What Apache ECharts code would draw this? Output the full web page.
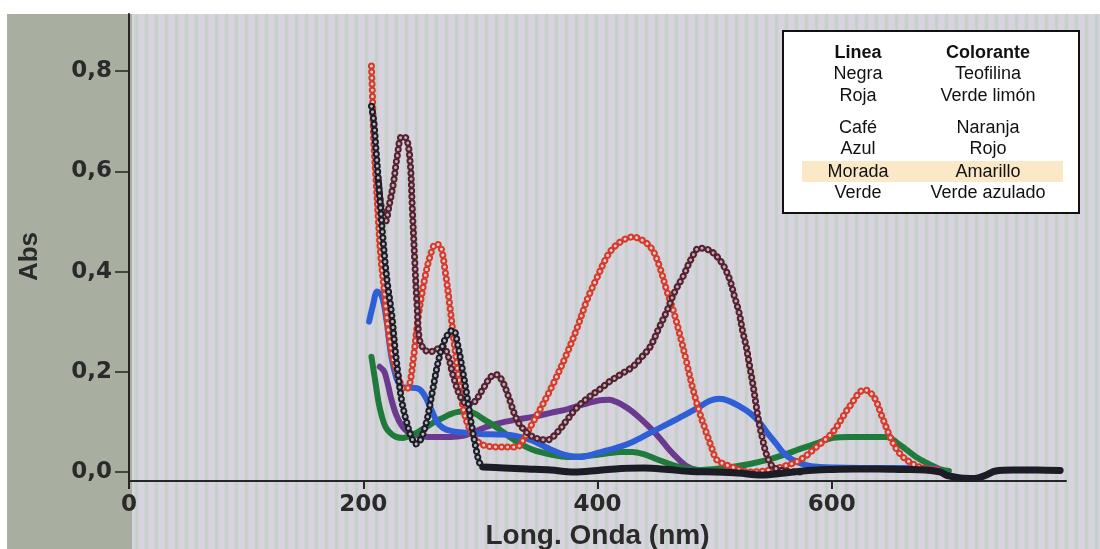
<!DOCTYPE html>
<html>
<head>
<meta charset="utf-8">
<script src="https://cdn.jsdelivr.net/npm/echarts@6/dist/echarts.min.js"></script>
<style>
  html, body { margin:0; padding:0; }
  body {
    width:1100px; height:549px; overflow:hidden; position:relative;
    background: repeating-linear-gradient(90deg, #d7d3df 0px, #d7d3df 4px, #c4d0c5 6px, #c4d0c5 7px, #d7d3df 9px, #d7d3df 10px);
  }
  #leftPanel { position:absolute; left:7px; top:14px; width:125px; height:535px; background:#a8aea0; }
  #topWhite { position:absolute; left:0; top:0; width:1100px; height:14px; background:#ffffff; }
  #leftWhite { position:absolute; left:0; top:0; width:7px; height:549px; background:#ffffff; }
  #chart { position:absolute; left:0; top:0; width:1100px; height:549px; }
</style>
</head>
<body>
<div id="leftPanel"></div>
<div id="topWhite"></div>
<div id="leftWhite"></div>
<div id="chart"></div>
<script>
// ---- data (wavelength nm, absorbance) ----
const xTicks = [0, 200, 400, 600];
const yTicks = [0, 0.2, 0.4, 0.6, 0.8];

const legendHeader = ['Linea', 'Colorante'];
const legendLinea = ['Negra', 'Roja', 'Café', 'Azul', 'Morada', 'Verde'];
const legendColorante = ['Teofilina', 'Verde limón', 'Naranja', 'Rojo', 'Amarillo', 'Verde azulado'];

const roja = [[207,0.81],[208,0.74],[209,0.66],[211,0.58],[213,0.50],[215,0.43],[218,0.36],[221,0.29],[225,0.23],[230,0.19],[235,0.165],[239,0.17],[243,0.23],[247,0.31],[252,0.38],[257,0.43],[262,0.455],[266,0.45],[270,0.40],[274,0.33],[278,0.25],[282,0.18],[286,0.12],[291,0.085],[297,0.062],[305,0.052],[317,0.05],[331,0.05],[338,0.07],[345,0.1],[351,0.125],[362,0.175],[374,0.237],[383,0.29],[391,0.343],[400,0.39],[410,0.437],[420,0.46],[430,0.469],[440,0.46],[447,0.443],[453,0.41],[459,0.363],[465,0.32],[470,0.277],[476,0.22],[481,0.17],[487,0.12],[493,0.078],[498,0.045],[502,0.024],[515,0.01],[530,0.0],[545,0.003],[560,0.012],[573,0.024],[587,0.05],[601,0.08],[615,0.13],[628,0.164],[636,0.15],[643,0.11],[651,0.064],[657,0.04],[664,0.024],[675,0.01],[690,0.005]];

const cafe = [[213,0.58],[216,0.52],[219,0.50],[222,0.53],[226,0.58],[229,0.63],[233,0.67],[237,0.665],[240,0.62],[242,0.52],[244,0.42],[246,0.33],[248,0.265],[252,0.245],[257,0.24],[263,0.245],[268,0.25],[272,0.235],[277,0.19],[283,0.15],[289,0.135],[295,0.14],[302,0.165],[309,0.19],[314,0.194],[319,0.18],[325,0.144],[330,0.11],[335,0.09],[345,0.07],[357,0.064],[366,0.08],[374,0.104],[383,0.13],[393,0.15],[402,0.165],[410,0.18],[420,0.195],[430,0.21],[438,0.23],[445,0.25],[452,0.285],[459,0.32],[466,0.36],[473,0.39],[480,0.425],[487,0.447],[495,0.443],[502,0.43],[508,0.41],[513,0.383],[517,0.35],[521,0.317],[524,0.28],[527,0.25],[530,0.21],[533,0.17],[535,0.14],[537,0.11],[541,0.065],[545,0.03],[550,0.01],[560,0.002],[575,0.0]];

const negraUV = [[207,0.73],[209,0.70],[211,0.64],[213,0.58],[215,0.52],[217,0.46],[219,0.41],[221,0.37],[224,0.32],[227,0.25],[230,0.19],[233,0.14],[237,0.10],[241,0.07],[245,0.056],[249,0.065],[254,0.1],[259,0.16],[264,0.22],[269,0.26],[274,0.28],[277,0.283],[281,0.25],[285,0.2],[288,0.16],[292,0.1],[296,0.05],[299,0.02],[302,0.01]];

const negraVis = [[302,0.01],[320,0.008],[340,0.006],[360,0.004],[380,0.0],[400,0.003],[420,0.007],[440,0.008],[460,0.005],[480,0.001],[500,0.0],[520,-0.002],[540,-0.006],[560,-0.002],[580,0.003],[600,0.005],[620,0.006],[640,0.006],[660,0.005],[680,0.004],[692,0.0],[700,-0.008],[710,-0.012],[722,-0.013],[732,-0.006],[740,0.002],[755,0.004],[775,0.004],[795,0.003]];

const azul = [[205,0.30],[208,0.33],[212,0.36],[216,0.35],[220,0.30],[224,0.23],[228,0.19],[232,0.172],[237,0.168],[242,0.168],[248,0.165],[253,0.15],[258,0.125],[263,0.1],[268,0.088],[275,0.082],[285,0.079],[300,0.076],[315,0.075],[330,0.072],[345,0.062],[360,0.045],[374,0.033],[385,0.03],[400,0.038],[416,0.048],[430,0.06],[445,0.078],[459,0.095],[473,0.112],[487,0.13],[496,0.142],[504,0.146],[512,0.142],[522,0.13],[530,0.118],[538,0.1],[545,0.078],[552,0.058],[558,0.04],[566,0.025],[579,0.013],[590,0.01],[601,0.009],[630,0.008],[660,0.008],[690,0.007]];

const verde = [[207,0.23],[209,0.2],[211,0.17],[213,0.14],[216,0.11],[219,0.09],[223,0.078],[228,0.07],[234,0.068],[240,0.072],[247,0.08],[254,0.09],[261,0.1],[268,0.108],[274,0.115],[281,0.12],[288,0.121],[295,0.117],[303,0.105],[310,0.095],[317,0.084],[325,0.07],[335,0.055],[345,0.044],[360,0.035],[374,0.03],[390,0.032],[405,0.036],[420,0.04],[430,0.04],[440,0.035],[450,0.026],[459,0.018],[470,0.01],[487,0.004],[500,0.006],[515,0.01],[530,0.016],[545,0.024],[559,0.034],[573,0.046],[587,0.057],[601,0.068],[615,0.07],[630,0.07],[647,0.07],[656,0.058],[664,0.044],[672,0.03],[681,0.018],[692,0.006],[700,0.002]];

const morada = [[214,0.21],[218,0.2],[221,0.175],[224,0.145],[228,0.115],[233,0.092],[238,0.08],[245,0.074],[255,0.07],[265,0.07],[275,0.07],[285,0.072],[295,0.08],[305,0.09],[317,0.098],[330,0.104],[345,0.11],[360,0.118],[374,0.125],[388,0.135],[402,0.143],[410,0.144],[416,0.14],[424,0.13],[430,0.12],[436,0.108],[445,0.088],[453,0.068],[460,0.048],[468,0.028],[476,0.012],[485,0.004],[500,0.002]];

// ---- chart ----
const chart = echarts.init(document.getElementById('chart'), null, {renderer:'canvas'});
const axisColor = '#262626';
const tickFont = {fontFamily:'DejaVu Sans', fontWeight:'bold', fontSize:23, color:'#2a2a2a'};
const nameFont = {fontFamily:'Liberation Sans', fontWeight:'bold', fontSize:28, color:'#2a2a2a'};

function solid(data, color, width) {
  return {type:'line', data:data, smooth:0.35, showSymbol:false, silent:true,
    lineStyle:{color:color, width:width, cap:'round', join:'round'}};
}
function rings(data, outer, inner) {
  return [
    {type:'line', data:data, smooth:0.35, showSymbol:false, silent:true,
      lineStyle:{color:outer, width:7, type:[0.01, 6], cap:'round'}},
    {type:'line', data:data, smooth:0.35, showSymbol:false, silent:true,
      lineStyle:{color:inner, width:3, type:[0.01, 6], cap:'round'}}
  ];
}

const rowsY = [74, 96, 128, 149, 172, 193];
const legendChildren = [
  {type:'rect', shape:{x:783, y:31, width:296, height:182}, style:{fill:'#ffffff', stroke:'#111', lineWidth:2}},
  {type:'rect', shape:{x:802, y:161, width:261, height:21}, style:{fill:'#fbe8c6'}},
  {type:'text', x:858, y:53, style:{text:legendHeader[0], fontFamily:'Liberation Sans', fontWeight:'bold', fontSize:18, fill:'#111', align:'center', verticalAlign:'middle'}},
  {type:'text', x:988, y:53, style:{text:legendHeader[1], fontFamily:'Liberation Sans', fontWeight:'bold', fontSize:18, fill:'#111', align:'center', verticalAlign:'middle'}}
];
legendLinea.forEach((t, i) => {
  legendChildren.push({type:'text', x:858, y:rowsY[i], style:{text:t, fontFamily:'Liberation Sans', fontSize:18, fill:'#111', align:'center', verticalAlign:'middle'}});
  legendChildren.push({type:'text', x:988, y:rowsY[i], style:{text:legendColorante[i], fontFamily:'Liberation Sans', fontSize:18, fill:'#111', align:'center', verticalAlign:'middle'}});
});

chart.setOption({
  animation:false,
  backgroundColor:'transparent',
  grid:{left:129, right:34, top:14, bottom:68, outerBoundsMode:'none', containLabel:false},
  xAxis:{
    type:'value', min:0, max:800,
    axisLine:{show:true, onZero:false, lineStyle:{color:axisColor, width:2}},
    axisTick:{show:true, length:8, customValues:xTicks, lineStyle:{color:axisColor, width:2}},
    axisLabel:Object.assign({customValues:xTicks, margin:13, formatter:v=>String(v)}, tickFont),
    splitLine:{show:false},
    name:'Long. Onda (nm)', nameLocation:'middle', nameGap:33, nameTextStyle:nameFont
  },
  yAxis:{
    type:'value', min:-0.018, max:0.914,
    axisLine:{show:true, onZero:false, lineStyle:{color:axisColor, width:2}},
    axisTick:{show:true, length:14, customValues:yTicks, lineStyle:{color:axisColor, width:1.5}},
    axisLabel:Object.assign({customValues:yTicks, margin:17, formatter:v=>v.toFixed(1).replace('.', ',')}, tickFont),
    splitLine:{show:false},
    name:'Abs', nameLocation:'middle', nameGap:86, nameRotate:90,
    nameTextStyle:Object.assign({padding:[0, 18, 0, 0]}, nameFont, {fontSize:26})
  },
  graphic:[{type:'group', z:100, children:legendChildren}],
  series:[
    solid(morada, '#6b3a8f', 6),
    solid(verde, '#1f7a3b', 6),
    solid(azul, '#2f5fd6', 6),
    ...rings(roja, '#d63a2c', '#e9cfcb'),
    ...rings(cafe, '#55202f', '#bfaeb4'),
    ...rings(negraUV, '#1d1d27', '#b9b9c2'),
    solid(negraVis, '#1b1c25', 7)
  ]
});
</script>
</body>
</html>
